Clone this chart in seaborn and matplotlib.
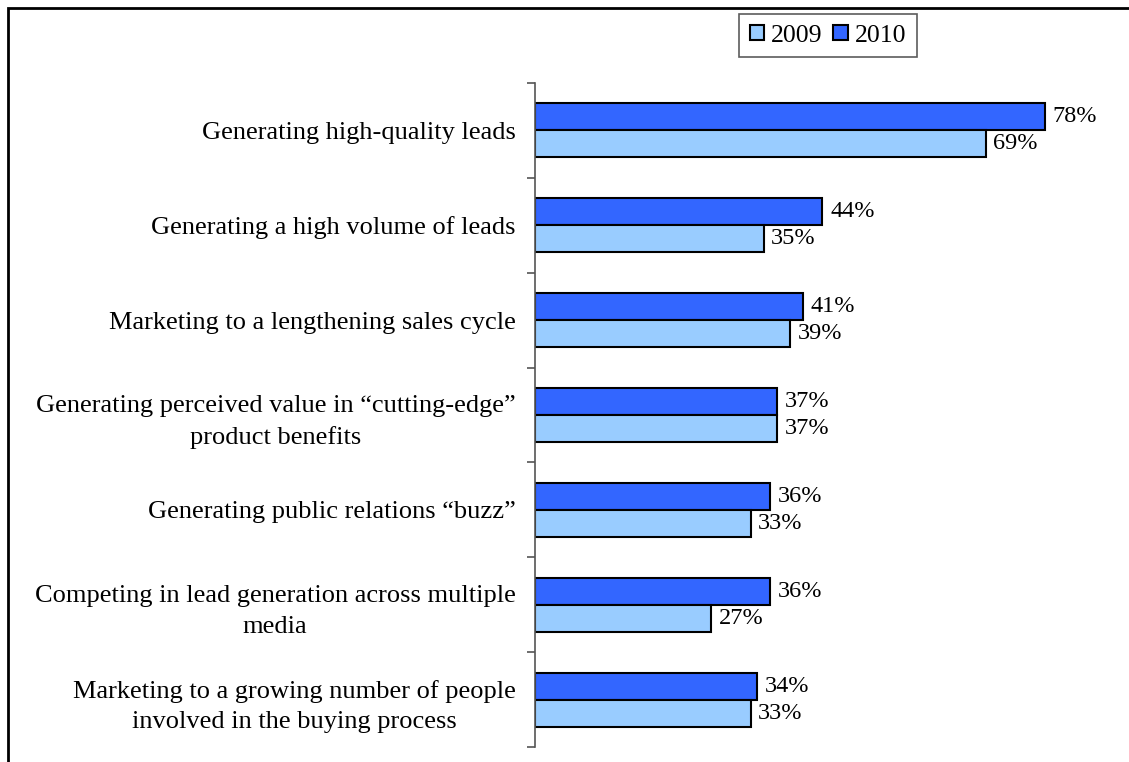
import matplotlib
matplotlib.use("Agg")
import matplotlib.pyplot as plt
import seaborn as sns
import pandas as pd
from matplotlib.patches import Rectangle, Patch

categories = [
    "Generating high-quality leads",
    "Generating a high volume of leads",
    "Marketing to a lengthening sales cycle",
    "Generating perceived value in \u201ccutting-edge\u201d\nproduct benefits",
    "Generating public relations \u201cbuzz\u201d",
    "Competing in lead generation across multiple\nmedia",
    "Marketing to a growing number of people\ninvolved in the buying process",
]
values_2009 = [69, 35, 39, 37, 33, 27, 33]
values_2010 = [78, 44, 41, 37, 36, 36, 34]
years = ["2009", "2010"]
colors = {"2009": "#99CCFF", "2010": "#3366FF"}

df = pd.DataFrame({
    "category": categories * 2,
    "year": ["2009"] * len(categories) + ["2010"] * len(categories),
    "value": values_2009 + values_2010,
})

sns.set_theme(style="white")
plt.rcParams["font.family"] = ["Liberation Serif", "DejaVu Serif"]

fig = plt.figure(figsize=(11.29, 7.62), dpi=100)
ax = fig.add_axes([535 / 1129, 1 - 747 / 762, 588 / 1129, (747 - 83) / 762])

sns.barplot(data=df, y="category", x="value", hue="year", hue_order=["2010", "2009"],
            order=categories, palette=colors, width=0.57, gap=0, orient="h",
            edgecolor="black", linewidth=1.5, saturation=1, ax=ax, legend=False)

for cont in ax.containers:
    ax.bar_label(cont, fmt="%g%%", padding=5.5, fontsize=17.5, color="black")

ax.set_xlim(0, 90)
ax.set_ylim(len(categories) - 0.5, -0.5)
ax.set_xlabel("")
ax.set_ylabel("")
ax.set_xticks([])
for s in ["top", "right", "bottom"]:
    ax.spines[s].set_visible(False)
ax.spines["left"].set_color("#555555")
ax.spines["left"].set_linewidth(1.2)

ax.tick_params(axis="y", which="major", length=0, pad=14, labelsize=19, labelcolor="black")
for lab in ax.get_yticklabels():
    lab.set_multialignment("center")
    lab.set_linespacing(1.5)
ax.set_yticks([i - 0.5 for i in range(len(categories) + 1)], minor=True)
ax.tick_params(axis="y", which="minor", length=6, width=1.2, color="#555555", left=True)

handles = [Patch(facecolor=colors[y], edgecolor="black", linewidth=1.5) for y in years]
leg = fig.legend(handles, years, loc="center", bbox_to_anchor=(828 / 1129, 1 - 35.5 / 762),
                 ncol=2, frameon=True, fontsize=18.5, handlelength=0.56, handleheight=0.56,
                 handletextpad=0.28, columnspacing=0.42, borderpad=0.4, fancybox=False,
                 labelcolor="black")
leg.get_frame().set_edgecolor("#333333")
leg.get_frame().set_linewidth(1.2)

fig.patches.append(Rectangle((7.5 / 1129, -0.1), 1.2, 1 - 7.5 / 762 + 0.1,
                             transform=fig.transFigure, fill=False,
                             edgecolor="black", linewidth=2))

fig.savefig("out.png", dpi=100, facecolor="white")
